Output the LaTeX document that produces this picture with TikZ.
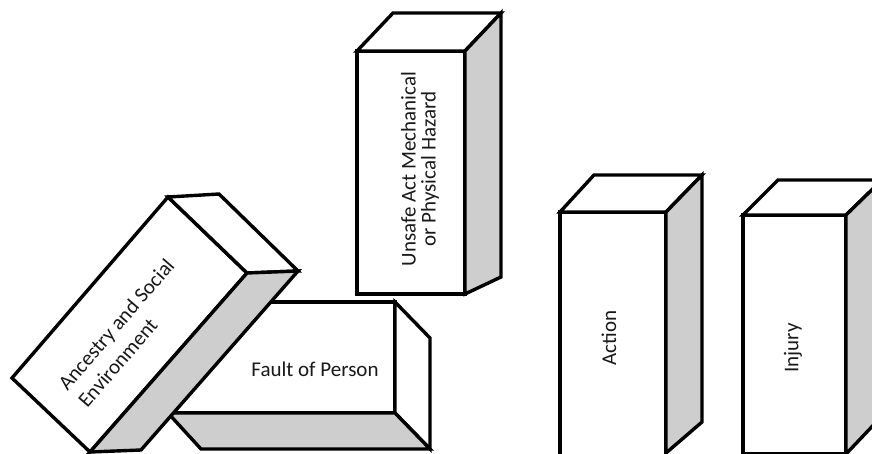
\documentclass[tikz,border=0pt]{standalone}
\usepackage{fontspec}
\setmainfont{Carlito}
\usepackage{tikz}
\usetikzlibrary{positioning}
\definecolor{sidegray}{RGB}{206,206,206}

\begin{document}
\begin{tikzpicture}[x=1pt, y=-1pt,
    blockface/.style={draw=black, line width=3.4pt, fill=white, line join=miter},
    darkface/.style={blockface, fill=sidegray},
    lbl/.style={font=\fontsize{21}{24}\selectfont, inner sep=0pt, text=black!90}]
  \useasboundingbox (0,0) rectangle (872,454);
  \clip (0,0) rectangle (872,454);

  % fault of person, lying behind the first block
  \draw[blockface] (168,302) -- (395,302) -- (395,413) -- (168,413) -- cycle;
  \draw[blockface] (395,302) -- (430,338) -- (430,449) -- (395,413) -- cycle;
  \draw[darkface] (168,413) -- (395,413) -- (430,449) -- (201,449) -- cycle;
  \node[lbl] (fault) at (315,369) {Fault of Person};

  % ancestry, tipped over
  \draw[blockface] (12,378) -- (168,197) -- (247,273) -- (90,452) -- cycle;
  \draw[blockface] (168,197) -- (219,194) -- (298,271) -- (247,273) -- cycle;
  \draw[darkface] (247,273) -- (298,271) -- (141,450) -- (90,452) -- cycle;
  \node[lbl, rotate=49.2, align=left, font=\fontsize{21}{26}\selectfont]
    (ancestry) at (126,333) {Ancestry and Social\\Environment};

  % unsafe act
  \draw[blockface] (357,51) -- (465,51) -- (465,294) -- (357,294) -- cycle;
  \draw[blockface] (357,51) -- (393,13) -- (501,13) -- (465,51) -- cycle;
  \draw[darkface] (465,51) -- (501,13) -- (501,277) -- (465,294) -- cycle;
  \node[lbl, rotate=90, align=center, font=\fontsize{21}{20}\selectfont]
    (unsafe) at (420,169) {Unsafe Act Mechanical\\or Physical Hazard};

  % action
  \draw[blockface] (560,212) -- (666,212) -- (666,462) -- (560,462) -- cycle;
  \draw[blockface] (560,212) -- (594,175) -- (702,175) -- (666,212) -- cycle;
  \draw[darkface] (666,212) -- (702,175) -- (702,422) -- (666,453) -- cycle;
  \node[lbl, rotate=90] (action) at (609,338) {Action};

  % injury
  \draw[blockface] (743,215) -- (846,215) -- (846,454) -- (743,454) -- cycle;
  \draw[blockface] (743,215) -- (778,180) -- (882,180) -- (846,215) -- cycle;
  \draw[darkface] (846,215) -- (882,180) -- (882,416) -- (846,454) -- cycle;
  \node[lbl, rotate=90] (injury) at (793,348) {Injury};
\end{tikzpicture}
\end{document}
